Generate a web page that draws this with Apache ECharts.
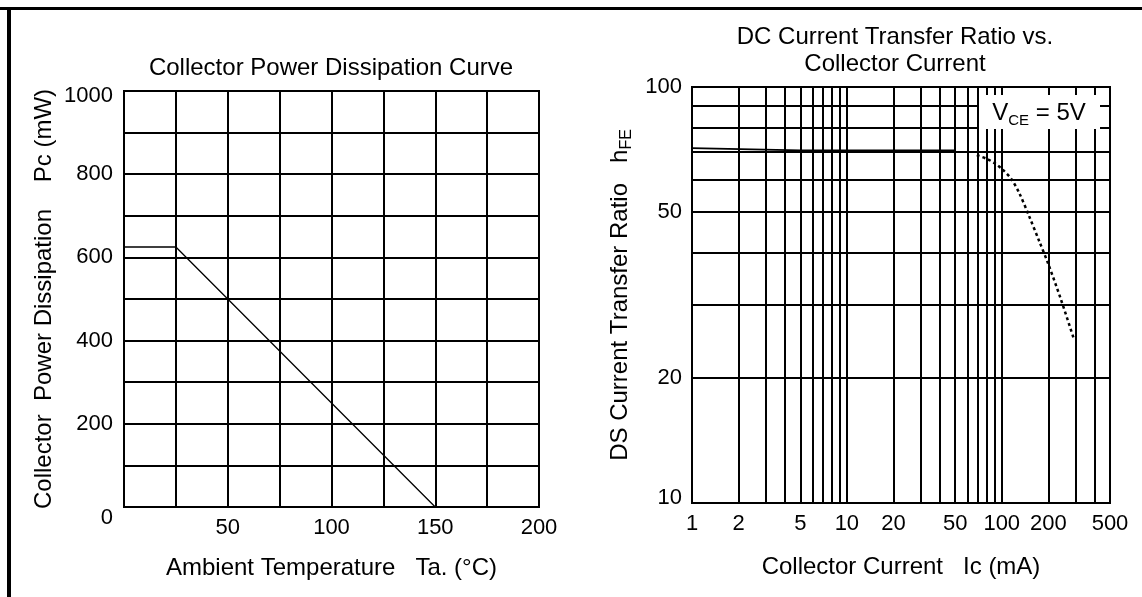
<!DOCTYPE html>
<html>
<head>
<meta charset="utf-8">
<script src="https://cdn.jsdelivr.net/npm/echarts@6/dist/echarts.min.js"></script>
<style>
html,body{margin:0;padding:0;background:#fff;}
#chart{width:1142px;height:597px;}
</style>
</head>
<body>
<div id="chart"></div>
<script>
// Left chart: Collector Power Dissipation Curve
const tempC = [0, 25, 150];
const powerMw = [625, 625, 0];
const leftXLabels = [50, 100, 150, 200];
const leftYLabels = [0, 200, 400, 600, 800, 1000];

// Right chart: DC Current Transfer Ratio vs. Collector Current
const icSolid = [1, 5, 50];
const hfeSolid = [71.3, 70.4, 70.4];
const icDotted = [69, 80, 90, 100, 115, 130, 150, 175, 200, 240, 290];
const hfeDotted = [68.6, 67.2, 65.6, 63.6, 60.2, 55.5, 49, 42.5, 37.5, 31, 25];
const rightXGrid = [1,2,3,4,5,6,7,8,9,10,20,30,40,50,60,70,80,90,100,200,300,400,500];
const rightXLabels = [1, 2, 5, 10, 20, 50, 100, 200, 500];
const rightYGrid = [10,20,30,40,50,60,70,80,90,100];
const rightYLabels = [10, 20, 50, 100];

const FONT = "'Liberation Sans', Arial, sans-serif";
const BLACK = '#000';
const tickFont = {fontSize: 22, fontFamily: FONT, color: BLACK};
const nameFont = {fontSize: 24, fontFamily: FONT, color: BLACK};
const split = {show: true, lineStyle: {color: BLACK, width: 2}};

const chart = echarts.init(document.getElementById('chart'), null, {renderer: 'canvas'});
chart.setOption({
  animation: false,
  backgroundColor: '#fff',
  title: [
    {text: 'Collector Power Dissipation Curve', left: 331, top: 55, textAlign: 'center', padding: 0,
     textStyle: Object.assign({fontWeight: 'normal', lineHeight: 27}, nameFont)},
    {text: 'DC Current Transfer Ratio vs.\nCollector Current', left: 895, top: 24, textAlign: 'center', padding: 0,
     textStyle: Object.assign({fontWeight: 'normal', lineHeight: 27}, nameFont)}
  ],
  grid: [
    {left: 124, top: 91, width: 415, height: 416, show: true, borderColor: BLACK, borderWidth: 2, backgroundColor: '#fff'},
    {left: 692, top: 87, width: 418, height: 416, show: true, borderColor: BLACK, borderWidth: 2, backgroundColor: '#fff'}
  ],
  xAxis: [
    {type: 'value', gridIndex: 0, min: 0, max: 200, interval: 25,
     axisLine: {show: false}, axisTick: {show: false}, splitLine: split,
     axisLabel: Object.assign({margin: 10, formatter: v => leftXLabels.indexOf(v) >= 0 ? String(v) : ''}, tickFont),
     name: 'Ambient Temperature   Ta. (°C)', nameLocation: 'middle', nameGap: 49, nameTextStyle: nameFont},
    {type: 'log', logBase: 10, gridIndex: 1, min: 1, max: 500,
     axisLine: {show: false}, axisTick: {show: false, customValues: rightXGrid}, splitLine: split,
     axisLabel: Object.assign({margin: 10, customValues: rightXLabels, formatter: v => String(Math.round(v))}, tickFont),
     name: 'Collector Current   Ic (mA)', nameLocation: 'middle', nameGap: 52, nameTextStyle: nameFont}
  ],
  yAxis: [
    {type: 'value', gridIndex: 0, min: 0, max: 1000, interval: 100,
     axisLine: {show: false}, axisTick: {show: false}, splitLine: split,
     axisLabel: Object.assign({margin: 11,
       formatter: v => {
         if (leftYLabels.indexOf(v) < 0) return '';
         if (v === 0) return '{lo|0}';
         if (v === 1000) return '{hi|1000}';
         return String(v);
       },
       rich: {
         lo: {fontSize: 22, fontFamily: FONT, color: BLACK, padding: [22, 0, 0, 0]},
         hi: {fontSize: 22, fontFamily: FONT, color: BLACK, padding: [10, 0, 0, 0]}
       }}, tickFont),
     name: 'Collector  Power Dissipation    Pc (mW)', nameLocation: 'middle', nameGap: 68, nameTextStyle: nameFont},
    {type: 'log', logBase: 10, gridIndex: 1, min: 10, max: 100,
     axisLine: {show: false}, axisTick: {show: false, customValues: rightYGrid}, splitLine: split,
     axisLabel: Object.assign({margin: 10, customValues: rightYLabels,
       formatter: v => Math.round(v) === 10 ? '{lo|10}' : String(Math.round(v)),
       rich: {lo: {fontSize: 22, fontFamily: FONT, color: BLACK, padding: [0, 0, 10, 0]}}}, tickFont),
     name: 'DS Current Transfer Ratio   {h|h}{s|FE}', nameLocation: 'middle', nameGap: 57,
     nameTextStyle: Object.assign({rich: {
       h: {fontSize: 24, fontFamily: FONT, color: BLACK, lineHeight: 26},
       s: {fontSize: 16, fontFamily: FONT, color: BLACK, lineHeight: 30, verticalAlign: 'bottom'}
     }}, nameFont)}
  ],
  graphic: [
    {type: 'rect', shape: {x: 0, y: 7, width: 1142, height: 3}, style: {fill: BLACK}},
    {type: 'rect', shape: {x: 7, y: 7, width: 4, height: 590}, style: {fill: BLACK}},
    {type: 'rect', z: 100, shape: {x: 979, y: 95, width: 121, height: 34}, style: {fill: '#fff'}},
    {type: 'text', z: 101, x: 1039, y: 113,
     style: {text: '{v|V}{s|CE}{v| = 5V}', align: 'center', verticalAlign: 'middle',
       rich: {
         v: {fontSize: 24, fontFamily: FONT, fill: BLACK, lineHeight: 24},
         s: {fontSize: 15, fontFamily: FONT, fill: BLACK, lineHeight: 30, verticalAlign: 'bottom'}
       }}}
  ],
  series: [
    {type: 'line', xAxisIndex: 0, yAxisIndex: 0, symbol: 'none', z: 5,
     data: tempC.map((t, i) => [t, powerMw[i]]),
     lineStyle: {color: BLACK, width: 1.3}},
    {type: 'line', xAxisIndex: 1, yAxisIndex: 1, symbol: 'none', z: 5,
     data: icSolid.map((c, i) => [c, hfeSolid[i]]),
     lineStyle: {color: BLACK, width: 1.6}},
    {type: 'line', xAxisIndex: 1, yAxisIndex: 1, symbol: 'none', z: 5, smooth: 0.3,
     data: icDotted.map((c, i) => [c, hfeDotted[i]]),
     lineStyle: {color: BLACK, width: 2.5, type: [3, 3]}}
  ]
});
</script>
</body>
</html>
